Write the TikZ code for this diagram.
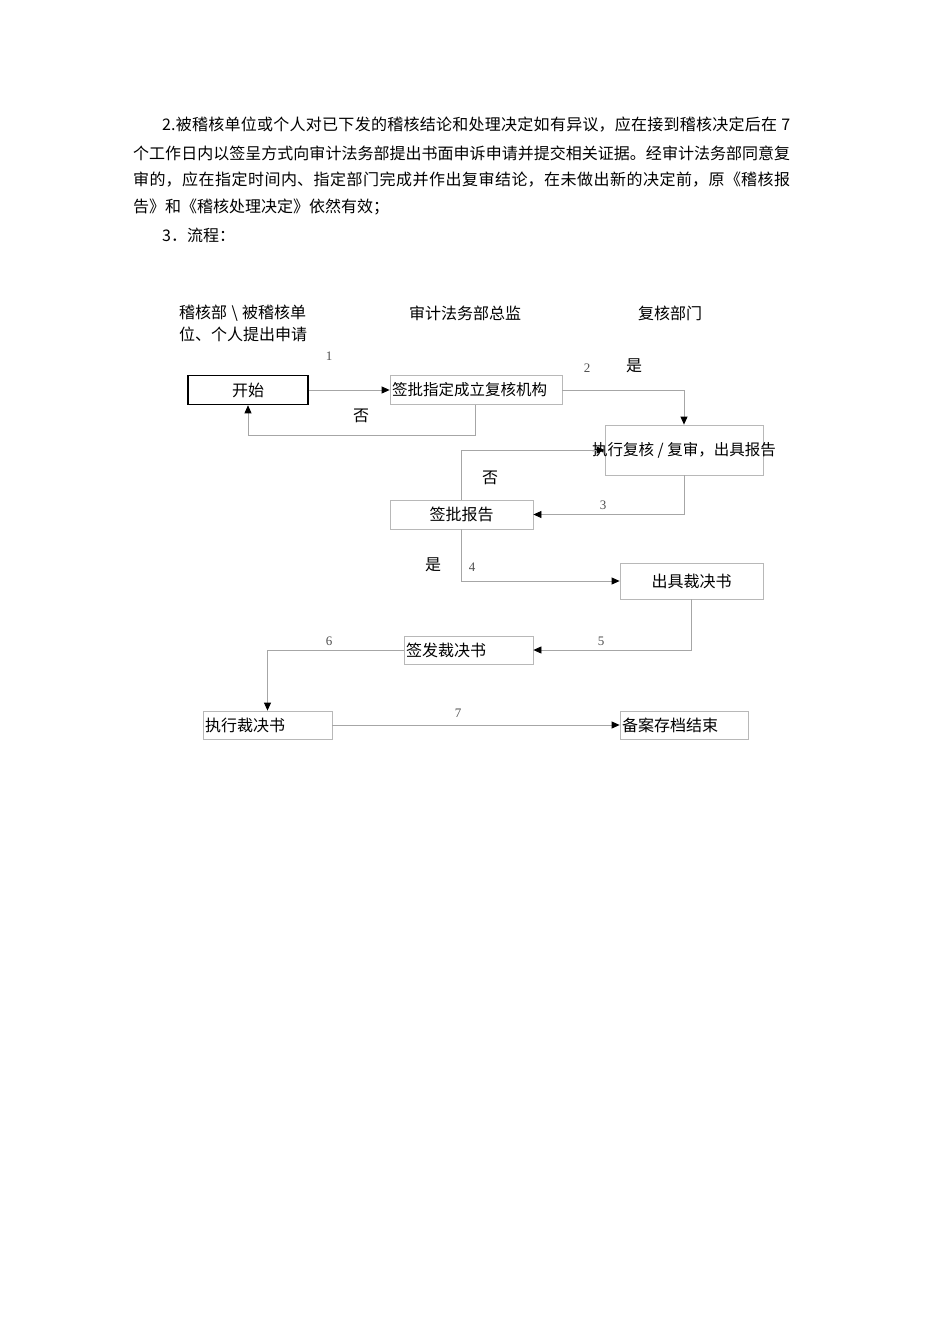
\documentclass[tikz,border=0pt]{standalone}
\usepackage{fontspec}
\setmainfont{Liberation Serif}
\newfontfamily\cjk{Noto Sans CJK SC}
\usetikzlibrary{arrows.meta}
\XeTeXlinebreaklocale "zh"
\XeTeXlinebreakskip=0pt plus 1pt
\definecolor{linegray}{HTML}{A6A6A6}
\definecolor{boxgray}{HTML}{B8B8B8}
\definecolor{numgray}{HTML}{505050}
\newcommand{\justline}[2]{\parbox{#1}{\parindent=0pt\parfillskip=0pt\relax #2}}
\begin{document}
\begin{tikzpicture}[x=1pt,y=-1pt,
  conn/.style={draw=linegray, line width=0.8pt, -{Triangle[length=8pt,width=7pt,color=black]}},
  box/.style={draw=boxgray, line width=0.8pt, inner sep=0pt, minimum height=29, font=\cjk\fontsize{16pt}{18pt}\selectfont},
  startbox/.style={draw=black, line width=1.6pt, inner sep=0pt, minimum width=120, minimum height=29, font=\cjk\fontsize{16pt}{18pt}\selectfont},
  body/.style={anchor=west, inner sep=0pt, font=\cjk\fontsize{16pt}{18pt}\selectfont},
  head/.style={anchor=west, inner sep=0pt, font=\cjk\fontsize{16pt}{18pt}\selectfont},
  num/.style={inner sep=0pt, text=numgray, font=\fontsize{13pt}{15pt}\selectfont},
  lab/.style={inner sep=0pt, font=\cjk\fontsize{16pt}{18pt}\selectfont}
]
\useasboundingbox[fill=white] (0,0) rectangle (950,1344);

% paragraph
\node[body] (p1) at (162,125) {\justline{628pt}{2.被稽核单位或个人对已下发的稽核结论和处理决定如有异议，应在接到稽核决定后在 7}};
\node[body] (p2) at (133,153) {\justline{657pt}{个工作日内以签呈方式向审计法务部提出书面申诉申请并提交相关证据。经审计法务部同意复}};
\node[body] (p3) at (133,180) {\justline{657pt}{审的，应在指定时间内、指定部门完成并作出复审结论，在未做出新的决定前，原《稽核报}};
\node[body] (p4) at (133,207) {告》和《稽核处理决定》依然有效；};
\node[body] (p5) at (162,235) {3．流程：};

% headers
\node[head] (h1a) at (179,313) {稽核部\makebox[15pt]{\textbackslash}被稽核单};
\node[head] (h1b) at (179,334) {位、个人提出申请};
\node[head] (h2) at (409,313) {审计法务部总监};
\node[head] (h3) at (638,313) {复核部门};

% boxes
\node[startbox] (start) at (248,390) {开始};
\node[box, minimum width=172, font=\cjk\fontsize{15.5pt}{18pt}\selectfont] (approve) at (476,390) {\makebox[168pt][l]{签批指定成立复核机构}};
\node[box, minimum width=158, minimum height=50, font=\cjk\fontsize{15.5pt}{18pt}\selectfont] (exec) at (684,450) {\makebox[0pt]{执行复核 / 复审，出具报告}};
\node[box, minimum width=143] (report) at (461.5,514.5) {签批报告};
\node[box, minimum width=143, minimum height=36] (issue) at (691.5,581) {出具裁决书};
\node[box, minimum width=129, minimum height=28] (sign) at (468.5,650) {\makebox[125pt][l]{签发裁决书}};
\node[box, minimum width=129, minimum height=28] (execd) at (267.5,725) {\makebox[125pt][l]{执行裁决书}};
\node[box, minimum width=128, minimum height=28] (archive) at (684,725) {\makebox[124pt][l]{备案存档结束}};

% connectors
\coordinate (c1) at (475,435);
\draw[conn] (start.east) -- (approve.west);
\draw[conn] (approve.east) -| (exec.north);
\draw[conn] (approve.south -| c1) -- (c1) -| (start.south);
\draw[conn] (report.north) |- (exec.west);
\draw[conn] (exec.south) |- (report.east);
\draw[conn] (report.south) |- (issue.west);
\draw[conn] (issue.south) |- (sign.east);
\draw[conn] (sign.west) -| (execd.north);
\draw[conn] (execd.east) -- (archive.west);

% labels
\node[num] (n1) at (329,356) {1};
\node[num] (n2) at (587,368) {2};
\node[num] (n3) at (603,505) {3};
\node[num] (n4) at (472,567) {4};
\node[num] (n5) at (601,641) {5};
\node[num] (n6) at (329,641) {6};
\node[num] (n7) at (458,713) {7};
\node[lab] (yes1) at (634,366) {是};
\node[lab] (no1) at (361,416) {否};
\node[lab] (no2) at (490,478) {否};
\node[lab] (yes2) at (433,565) {是};
\end{tikzpicture}
\end{document}
